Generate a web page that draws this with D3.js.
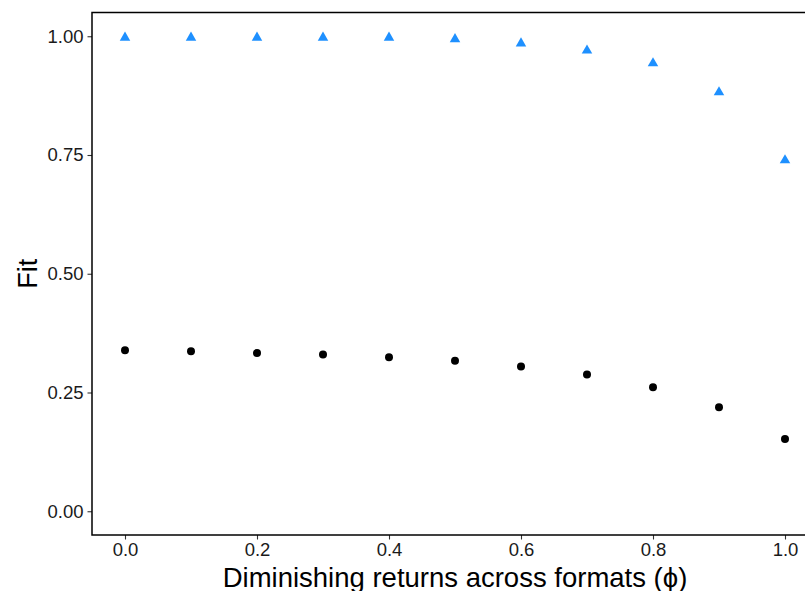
<!DOCTYPE html>
<html>
<head>
<meta charset="utf-8">
<script src="https://cdn.jsdelivr.net/npm/d3@7"></script>
<style>
html,body{margin:0;padding:0;background:#fff;overflow:hidden;}
svg{display:block;font-family:"Liberation Sans",Arial,sans-serif;}
</style>
</head>
<body>
<svg id="chart" width="805" height="591"></svg>
<script>
const phi = [0.0, 0.1, 0.2, 0.3, 0.4, 0.5, 0.6, 0.7, 0.8, 0.9, 1.0];
const fitTriangle = [0.997, 0.997, 0.997, 0.997, 0.997, 0.994, 0.985, 0.970, 0.943, 0.882, 0.739];
const fitCircle = [0.339, 0.337, 0.333, 0.330, 0.324, 0.317, 0.305, 0.288, 0.261, 0.219, 0.152];
const xTicks = [0.0, 0.2, 0.4, 0.6, 0.8, 1.0];
const yTicks = [0.00, 0.25, 0.50, 0.75, 1.00];
const xTitle = "Diminishing returns across formats (\u03D5)";
const yTitle = "Fit";

const svg = d3.select("#chart");
const L = 92, R = 818, T = 12.5, B = 535;
const x = d3.scaleLinear().domain([-0.05, 1.05]).range([L, R]);
const y = d3.scaleLinear().domain([-0.05, 1.05]).range([B, T + 0]);

// axes
const xAxis = d3.axisBottom(x).tickValues(xTicks).tickFormat(d3.format(".1f")).tickSize(4.5).tickPadding(3);
const yAxis = d3.axisLeft(y).tickValues(yTicks).tickFormat(d3.format(".2f")).tickSize(4.5).tickPadding(4);

const gx = svg.append("g").attr("transform", `translate(0,${B})`).call(xAxis);
const gy = svg.append("g").attr("transform", `translate(${L},0)`).call(yAxis);
[gx, gy].forEach(g => {
  g.select(".domain").remove();
  g.selectAll(".tick line").attr("stroke", "#333").attr("stroke-width", 1.1);
  g.selectAll(".tick text").attr("fill", "#1a1a1a").style("font-size", "18.5px").style("font-family", "'Liberation Sans', Arial, sans-serif");
});

// panel border
svg.append("rect").attr("x", L).attr("y", T).attr("width", R - L).attr("height", B - T)
  .attr("fill", "none").attr("stroke", "#000").attr("stroke-width", 1.5);

// circles
svg.append("g").selectAll("circle").data(phi).join("circle")
  .attr("cx", (d) => x(d)).attr("cy", (d, i) => y(fitCircle[i])).attr("r", 4)
  .attr("fill", "#000");

// triangles (R pch 17 geometry)
const u = 3.9;
svg.append("g").selectAll("path").data(phi).join("path")
  .attr("d", (d, i) => {
    const cx = x(d), cy = y(fitTriangle[i]);
    return `M${cx},${cy - 1.5551 * u}L${cx + 1.3468 * u},${cy + 0.7776 * u}L${cx - 1.3468 * u},${cy + 0.7776 * u}Z`;
  })
  .attr("fill", "#1E90FF");

// titles
svg.append("text").attr("x", (L + R) / 2).attr("y", 586.5).attr("text-anchor", "middle")
  .style("font-size", "27.5px").attr("fill", "#000").text(xTitle);
svg.append("text").attr("transform", `translate(36.5,${(T + B) / 2}) rotate(-90)`).attr("text-anchor", "middle")
  .style("font-size", "27px").attr("fill", "#000").text(yTitle);
</script>
</body>
</html>
